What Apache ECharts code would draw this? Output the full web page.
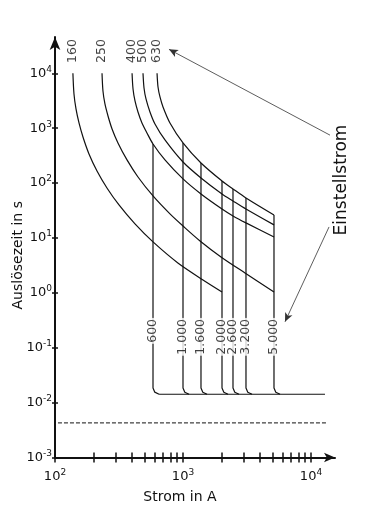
<!DOCTYPE html>
<html><head><meta charset="utf-8">
<script src="https://cdn.jsdelivr.net/npm/echarts@6/dist/echarts.min.js"></script>
<style>html,body{margin:0;padding:0;background:#fff}#c{width:366px;height:512px}</style>
</head><body><div id="c"></div>
<script>
// ---- data (current in A, time in s) ----
const thermalLabels = ['160', '250', '400', '500', '630'];
const thermalStartI = [138, 233, 400, 487, 627];
const curve160 = [[138,10000],[140.7,4198],[145.9,2237],[154,1244],[165.4,691],[184.3,339],[212.9,166],[254.7,81.4],[316.2,39.9],[421.7,18.0],[583,8.46],[912,3.50],[1433,1.72],[2017,1.04]];
const curve250 = [[233,10000],[237,4760],[245.6,2759],[259.5,1668],[279.1,967],[310.4,538],[365.2,264],[445,129],[583,58.2],[791,27.4],[1000,16.5],[1358,8.82],[1981,4.51],[3051,2.30],[5139,1.04]];
const curve400 = [[400,10000],[407,5176],[421.7,3129],[445,1973],[478,1244],[523,818],[583,515],[723,264],[1000,119],[1382,63.3],[2017,33.7],[2458,25.2],[3105,18.8],[5139,10.4]];
const curve500 = [[487,10000],[496,5398],[514,3403],[552,1973],[604,1192],[723,610],[1000,242],[1382,124],[2017,63.3],[2458,47.2],[3105,33.7],[5139,17.3]];
const curve630 = [[627,10000],[638,5630],[661,3702],[698,2433],[791,1244],[1000,538],[1382,232],[2017,109],[2458,78.1],[3105,53.5],[5139,26.2]];

const instLabels = ['600', '1.000', '1.600', '2.000', '2.600', '3.200', '5.000'];
const instI = [583, 1000, 1382, 2017, 2458, 3105, 5139];
const instTop = [515, 538, 232, 109, 78.1, 53.5, 26.2];
const instCornerMidI = [602, 1033, 1428, 2084, 2539, 3207, 5309];
const instCornerEndI = [650, 1114, 1540, 2247, 2738, 3459, 5725];
const tBend = 0.0185, tMid = 0.0155, tFloor = 0.0142;
const floorLine = [[650, tFloor], [12860, tFloor]];
const dashedLine = [[105.5, 0.00427], [13090, 0.00427]];
const instLabelT = 0.349;
const thermalLabelT = 15400;

const xTicks = [100,200,300,400,500,600,700,800,900,1000,2000,3000,4000,5000,6000,7000,8000,9000,10000];
const xLabels = [100, 1000, 10000];
const yTicks = [0.001, 0.01, 0.1, 1, 10, 100, 1000, 10000];

const arrow1 = [[14076, 746], [777, 27300]];
const arrow2 = [[13830, 15.85], [6266, 0.297]];

// ---- chart ----
const FONT = 'DejaVu Sans';
const INK = '#111';
const xMin = 100, xMax = 15400, yMin = 0.001, yMax = 45800;

function supFmt(v) { return '{b|10}{s|' + Math.round(Math.log10(v)) + '}'; }
const rich = {
  b: { fontSize: 13, fontFamily: FONT, color: INK },
  s: { fontSize: 9, fontFamily: FONT, color: INK, padding: [0, 0, 8, 0] }
};
const lineStyle = { color: INK, width: 1.2 };

const series = [];
[curve160, curve250, curve400, curve500, curve630].forEach(function (c) {
  series.push({ type: 'line', data: c, smooth: 0.3, showSymbol: false, symbol: 'none', lineStyle: lineStyle, silent: true, clip: false });
});
instI.forEach(function (I, i) {
  series.push({ type: 'line', symbol: 'none', lineStyle: lineStyle, silent: true, clip: false,
    data: [[I, instTop[i]], [I, tBend], [instCornerMidI[i], tMid], [instCornerEndI[i], tFloor]] });
});
series.push({ type: 'line', symbol: 'none', lineStyle: lineStyle, silent: true, data: floorLine });
series.push({ type: 'line', symbol: 'none', lineStyle: { color: INK, width: 1, type: [4, 2] }, silent: true, data: dashedLine,
  markLine: { silent: true, symbol: ['none', 'arrow'], symbolSize: [6, 9], label: { show: false },
    lineStyle: { color: '#333', width: 0.8, type: 'solid' },
    data: [
      [{ coord: arrow1[0] }, { coord: arrow1[1] }],
      [{ coord: arrow2[0] }, { coord: arrow2[1] }]
    ] } });
series.push({ type: 'scatter', symbolSize: 1, itemStyle: { color: 'rgba(0,0,0,0)' }, silent: true, z: 10, clip: false,
  data: instI.map(function (I, i) { return { name: instLabels[i], value: [I, instLabelT] }; }),
  label: { show: true, formatter: '{b}', position: 'inside', rotate: 90, align: 'right', verticalAlign: 'middle',
    fontFamily: FONT, fontSize: 12.5, color: INK, backgroundColor: '#fff', padding: [0, 1] } });
series.push({ type: 'scatter', symbolSize: 1, itemStyle: { color: 'rgba(0,0,0,0)' }, silent: true, z: 10, clip: false,
  data: thermalStartI.map(function (I, i) { return { name: thermalLabels[i], value: [I, thermalLabelT] }; }),
  label: { show: true, formatter: '{b}', position: 'inside', rotate: 90, align: 'left', verticalAlign: 'middle',
    fontFamily: FONT, fontSize: 12.5, color: INK } });

const baseX = { type: 'log', logBase: 10, min: xMin, max: xMax, gridIndex: 0, position: 'bottom', splitLine: { show: false } };
const baseY = { type: 'log', logBase: 10, min: yMin, max: yMax, gridIndex: 0, position: 'left', splitLine: { show: false } };

const option = {
  animation: false,
  backgroundColor: '#fff',
  grid: { left: 55, right: 31, top: 37, bottom: 54.5, containLabel: false, outerBoundsMode: 'none' },
  xAxis: [
    Object.assign({}, baseX, {
      axisLine: { show: true, symbol: ['none', 'arrow'], symbolSize: [7, 11], lineStyle: { color: INK, width: 2 } },
      axisTick: { show: true, customValues: xTicks, length: 5, inside: false, lineStyle: { color: INK, width: 1.5 } },
      axisLabel: { customValues: xLabels, formatter: supFmt, rich: rich, margin: 11 },
      name: 'Strom in A', nameLocation: 'middle', nameGap: 33, nameMoveOverlap: false,
      nameTextStyle: { fontFamily: FONT, fontSize: 14, color: INK, padding: [0, 30, 0, 0] }
    }),
    Object.assign({}, baseX, {
      axisLine: { show: false },
      axisTick: { show: true, customValues: xTicks, length: 5, inside: true, lineStyle: { color: INK, width: 1.5 } },
      axisLabel: { show: false }
    })
  ],
  yAxis: [
    Object.assign({}, baseY, {
      axisLine: { show: true, symbol: ['none', 'arrow'], symbolSize: [8, 13], lineStyle: { color: INK, width: 2 } },
      axisTick: { show: true, customValues: yTicks, length: 3, inside: false, lineStyle: { color: INK, width: 1.5 } },
      axisLabel: { customValues: yTicks, formatter: supFmt, rich: rich, margin: 3 },
      name: 'Auslösezeit in s', nameLocation: 'middle', nameGap: 30, nameMoveOverlap: false,
      nameTextStyle: { fontFamily: FONT, fontSize: 14, color: INK, padding: [0, 16, 0, 0] }
    }),
    Object.assign({}, baseY, {
      axisLine: { show: false },
      axisTick: { show: true, customValues: yTicks, length: 3, inside: true, lineStyle: { color: INK, width: 1.5 } },
      axisLabel: { show: false }
    })
  ],
  graphic: [{
    type: 'text', x: 342, y: 180, rotation: Math.PI / 2, silent: true,
    style: { text: 'Einstellstrom', font: '17px "DejaVu Sans"', fill: INK, align: 'center', verticalAlign: 'middle', textAlign: 'center', textVerticalAlign: 'middle' }
  }],
  series: series
};
const chart = echarts.init(document.getElementById('c'), null, { renderer: 'canvas' });
chart.setOption(option);
</script></body></html>
